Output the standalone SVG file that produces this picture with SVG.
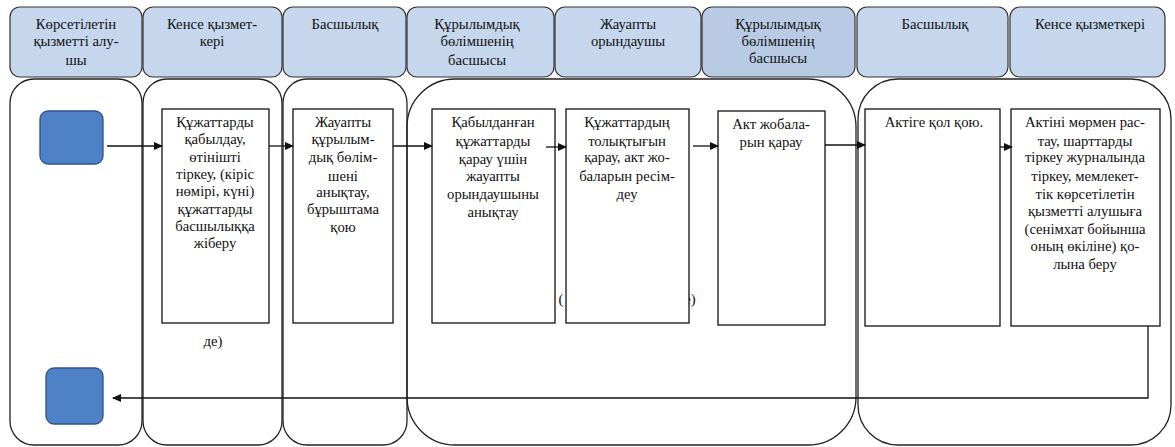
<svg xmlns="http://www.w3.org/2000/svg" width="1175" height="447" viewBox="0 0 1175 447">
<defs>
<style>
.hdr{fill:#c6d6ec;stroke:#333;stroke-width:1.2}
.hdr2{fill:#b9cbe4;stroke:#333;stroke-width:1.2}
.lane{fill:none;stroke:#222;stroke-width:1.3}
.box{fill:#fff;stroke:#111;stroke-width:1.3}
.term{fill:#4f81c6;stroke:#2f528f;stroke-width:1.3}
.ht{font-family:'Liberation Serif','DejaVu Serif',serif;font-size:14.7px;fill:#111;text-anchor:middle}
.bt{font-family:'Liberation Serif','DejaVu Serif',serif;font-size:14.7px;fill:#111;text-anchor:middle}
.ln{fill:none;stroke:#111;stroke-width:1.3}
</style>
<marker id="ah" markerWidth="9" markerHeight="8" refX="8" refY="4" orient="auto" markerUnits="userSpaceOnUse">
<path d="M0,0 L9,4 L0,8 Z" fill="#111"/>
</marker>
</defs>
<rect width="1175" height="447" fill="#fff"/>

<g id="lanes">
<rect class="lane" x="10" y="79" width="132" height="366" rx="24"/>
<rect class="lane" x="143" y="79" width="139" height="366" rx="24"/>
<rect class="lane" x="283" y="79" width="124" height="366" rx="24"/>
<rect class="lane" x="407" y="79" width="449" height="366" rx="48"/>
<rect class="lane" x="858" y="79" width="313" height="366" rx="40"/>
</g>

<g id="headers">
<g id="h1"><rect class="hdr" x="10" y="7" width="132" height="70" rx="10"/>
<text class="ht" x="76" y="29">Көрсетілетін</text><text class="ht" x="76" y="46">қызметті алу-</text><text class="ht" x="76" y="65">шы</text></g>
<g id="h2"><rect class="hdr" x="143" y="7" width="139" height="70" rx="10"/>
<text class="ht" x="212" y="29">Кенсе қызмет-</text><text class="ht" x="212" y="46">кері</text></g>
<g id="h3"><rect class="hdr" x="283" y="7" width="123" height="70" rx="10"/>
<text class="ht" x="345" y="29">Басшылық</text></g>
<g id="h4"><rect class="hdr" x="407" y="7" width="147" height="70" rx="10"/>
<text class="ht" x="477" y="29">Құрылымдық</text><text class="ht" x="477" y="46">бөлімшенің</text><text class="ht" x="477" y="65">басшысы</text></g>
<g id="h5"><rect class="hdr" x="555" y="7" width="146" height="70" rx="10"/>
<text class="ht" x="628" y="29">Жауапты</text><text class="ht" x="628" y="46">орындаушы</text></g>
<g id="h6"><rect class="hdr2" x="702" y="7" width="153" height="70" rx="10"/>
<text class="ht" x="778" y="29">Құрылымдық</text><text class="ht" x="778" y="46">бөлімшенің</text><text class="ht" x="778" y="63">басшысы</text></g>
<g id="h7"><rect class="hdr" x="857" y="7" width="151" height="70" rx="10"/>
<text class="ht" x="935" y="29">Басшылық</text></g>
<g id="h8"><rect class="hdr" x="1010" y="7" width="155" height="70" rx="10"/>
<text class="ht" x="1090" y="29">Кенсе қызметкері</text></g>
</g>

<g id="fragments">
<text class="bt" x="213" y="346">де)</text>
<text class="bt" x="561" y="304" text-anchor="start">(</text>
<text class="bt" x="690" y="304" text-anchor="start">е)</text>
</g>

<g id="start"><rect class="term" x="40" y="111" width="63" height="53" rx="8"/></g>
<g id="end"><rect class="term" x="46" y="368" width="57" height="56" rx="8"/></g>

<g id="b1"><rect class="box" x="162" y="109" width="107" height="214"/>
<text class="bt" x="215" y="127">Құжаттарды</text><text class="bt" x="215" y="144">қабылдау,</text><text class="bt" x="215" y="162">өтінішті</text><text class="bt" x="215" y="179">тіркеу, (кіріс</text><text class="bt" x="215" y="196">нөмірі, күні)</text><text class="bt" x="215" y="214">құжаттарды</text><text class="bt" x="215" y="231">басшылыққа</text><text class="bt" x="215" y="248">жіберу</text></g>

<g id="b2"><rect class="box" x="293" y="109" width="100" height="214"/>
<text class="bt" x="343" y="127">Жауапты</text><text class="bt" x="343" y="144">құрылым-</text><text class="bt" x="343" y="162">дық бөлім-</text><text class="bt" x="343" y="181">шені</text><text class="bt" x="343" y="197">анықтау,</text><text class="bt" x="343" y="214">бұрыштама</text><text class="bt" x="343" y="232">қою</text></g>

<g id="b3"><rect class="box" x="432" y="109" width="123" height="214"/>
<text class="bt" x="493" y="127">Қабылданған</text><text class="bt" x="493" y="146">құжаттарды</text><text class="bt" x="493" y="164">қарау үшін</text><text class="bt" x="493" y="181">жауапты</text><text class="bt" x="493" y="199">орындаушыны</text><text class="bt" x="493" y="217">анықтау</text></g>

<g id="b4"><rect class="box" x="566" y="109" width="123" height="214"/>
<text class="bt" x="627" y="127">Құжаттардың</text><text class="bt" x="627" y="146">толықтығын</text><text class="bt" x="627" y="162">қарау, акт жо-</text><text class="bt" x="627" y="181">баларын ресім-</text><text class="bt" x="627" y="199">деу</text></g>

<g id="b5"><rect class="box" x="718" y="111" width="107" height="214"/>
<text class="bt" x="771" y="129">Акт жобала-</text><text class="bt" x="771" y="147">рын қарау</text></g>

<g id="b6"><rect class="box" x="865" y="109" width="135" height="217"/>
<text class="bt" x="934" y="127">Актіге қол қою.</text></g>

<g id="b7"><rect class="box" x="1011" y="109" width="149" height="217"/>
<text class="bt" x="1085" y="127">Актіні мөрмен рас-</text><text class="bt" x="1085" y="146">тау, шарттарды</text><text class="bt" x="1085" y="162">тіркеу журналында</text><text class="bt" x="1085" y="181">тіркеу,  мемлекет-</text><text class="bt" x="1085" y="199">тік көрсетілетін</text><text class="bt" x="1085" y="216">қызметті алушыға</text><text class="bt" x="1085" y="234">(сенімхат бойынша</text><text class="bt" x="1085" y="251">оның өкіліне) қо-</text><text class="bt" x="1085" y="269">лына беру</text></g>

<g id="connectors">
<line class="ln" x1="107" y1="146" x2="162" y2="146" marker-end="url(#ah)"/>
<line class="ln" x1="269" y1="146" x2="293" y2="146" marker-end="url(#ah)"/>
<line class="ln" x1="393" y1="146" x2="432" y2="146" marker-end="url(#ah)"/>
<line class="ln" x1="546" y1="147" x2="566" y2="147" marker-end="url(#ah)"/>
<line class="ln" x1="693" y1="146" x2="718" y2="146" marker-end="url(#ah)"/>
<line class="ln" x1="825" y1="145" x2="865" y2="145" marker-end="url(#ah)"/>
<line class="ln" x1="1000" y1="147" x2="1012" y2="147" marker-end="url(#ah)"/>
<polyline class="ln" points="1148,326 1148,398 113,398" marker-end="url(#ah)"/>
</g>
</svg>
